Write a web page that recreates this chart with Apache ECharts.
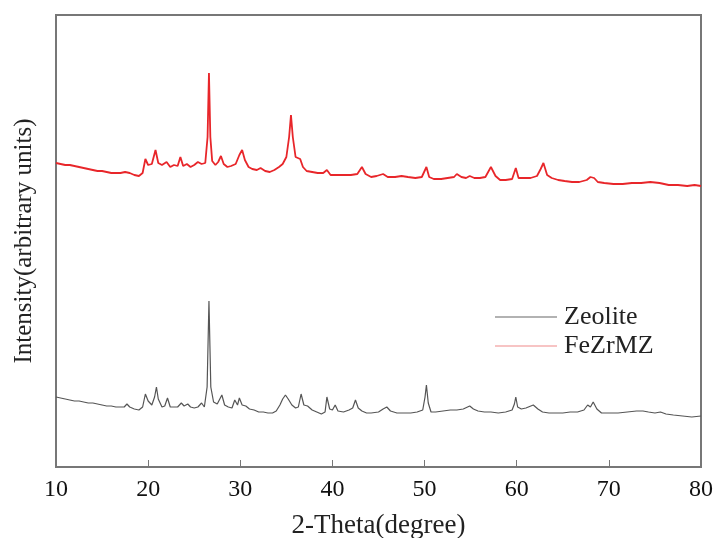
<!DOCTYPE html>
<html>
<head>
<meta charset="utf-8">
<script src="https://cdn.jsdelivr.net/npm/echarts@6/dist/echarts.min.js"></script>
<style>
  html, body { margin: 0; padding: 0; background: #fff; }
  #chart { width: 719px; height: 538px; }
</style>
</head>
<body>
<div id="chart"></div>
<script>
// x tick labels (2-theta, degree)
var xTicks = [10, 20, 30, 40, 50, 60, 70, 80]

// FeZrMZ pattern, [2theta, intensity] (arbitrary units, offset above zeolite)
var fezrmz = [
  [10,304],[10.5,303],[11,302],[11.5,302],[12,301],[12.5,300],[13,299],[13.5,298],[13.7,300],[14,297],
  [14.5,296],[15,296],[15.5,295],[16,294],[16.5,294],[17,294],[17.5,295],[17.7,297],[18,294],[18.5,292],
  [19,291],[19.4,294],[19.7,308],[20,302],[20.4,303],[20.8,317],[21.1,304],[21.5,302],[22,305],[22.4,300],
  [22.8,302],[23.2,301],[23.5,310],[23.8,301],[24.2,303],[24.6,300],[25,302],[25.4,305],[25.8,303],[26.2,304],
  [26.45,330],[26.6,394],[26.75,330],[26.95,306],[27.3,302],[27.6,305],[27.9,311],[28.2,303],[28.6,300],[29,301],
  [29.5,303],[29.9,312],[30.2,317],[30.5,307],[30.9,300],[31.3,298],[31.8,297],[32.2,299],[32.7,296],[33.2,295],
  [33.7,297],[34.2,300],[34.6,303],[35,310],[35.3,330],[35.5,352],[35.7,330],[36,310],[36.5,308],[36.8,300],
  [37.2,296],[37.8,295],[38.4,294],[39,294],[39.4,297],[39.8,292],[40.5,292],[41.2,292],[42,292],[42.7,293],
  [43.2,300],[43.6,293],[44.2,290],[44.8,291],[45.5,293],[46,290],[46.8,290],[47.5,291],[48.2,290],[49,289],
  [49.7,290],[50.2,300],[50.5,290],[51,288],[51.8,288],[52.5,289],[53.2,290],[53.5,293],[54,290],[54.5,289],
  [54.9,291],[55.4,289],[56,289],[56.6,290],[57.2,300],[57.7,291],[58.2,287],[58.8,287],[59.5,288],[59.9,299],
  [60.2,289],[60.8,289],[61.5,289],[62.2,291],[62.6,298],[62.9,304],[63.3,292],[63.8,289],[64.5,287],[65.2,286],
  [66,285],[66.8,285],[67.6,287],[68,290],[68.4,289],[68.8,285],[69.5,284],[70.5,283],[71.5,283],[72.5,284],
  [73.5,284],[74.5,285],[75.5,284],[76.5,282],[77.5,282],[78.5,281],[79.3,282],[80,281]
]

// Zeolite pattern, [2theta, intensity]
var zeolite = [
  [10,70],[10.5,69],[11,68],[11.5,67],[12,66],[12.5,66],[13,65],[13.5,64],[13.7,66],[14,64],
  [14.5,63],[15,62],[15.5,61],[16,61],[16.5,60],[17,60],[17.4,60],[17.7,63],[18,60],[18.5,58],
  [19,57],[19.4,60],[19.7,73],[20,66],[20.4,62],[20.7,70],[20.9,80],[21.1,68],[21.5,60],[21.8,61],
  [22.1,69],[22.4,60],[22.8,60],[23.2,60],[23.6,64],[23.9,61],[24.3,63],[24.6,60],[25,59],[25.4,60],
  [25.8,64],[26.1,60],[26.4,80],[26.6,166],[26.8,80],[27.1,65],[27.5,63],[28,72],[28.3,62],[28.7,60],
  [29.1,59],[29.4,67],[29.7,62],[29.9,69],[30.2,62],[30.6,61],[31,58],[31.5,57],[32,55],[32.5,55],
  [33,54],[33.5,54],[33.9,56],[34.3,62],[34.6,68],[34.9,72],[35.2,68],[35.6,62],[36,59],[36.3,60],
  [36.6,73],[36.9,62],[37.3,61],[37.8,57],[38.3,55],[38.8,53],[39.2,55],[39.4,70],[39.7,58],[40,57],
  [40.3,62],[40.6,56],[41.2,55],[41.8,57],[42.2,59],[42.5,67],[42.8,59],[43.2,56],[43.7,54],[44.2,54],
  [45,55],[45.5,58],[45.9,60],[46.3,56],[47,54],[47.8,54],[48.5,54],[49.2,55],[49.8,57],[50.05,70],
  [50.2,82],[50.4,64],[50.7,55],[51.2,55],[52,56],[52.8,57],[53.5,57],[54.2,58],[54.9,61],[55.3,58],
  [55.8,56],[56.5,55],[57.2,55],[58,54],[58.8,55],[59.5,57],[59.75,63],[59.9,70],[60.1,60],[60.5,58],
  [61,59],[61.8,62],[62.3,58],[62.8,55],[63.5,54],[64.2,54],[65,54],[65.8,55],[66.6,55],[67.3,57],
  [67.7,62],[68,60],[68.3,65],[68.7,58],[69.2,54],[70,54],[71,54],[72,55],[73,56],[73.7,56],
  [74.3,55],[75,54],[75.6,55],[76.2,53],[77,52],[78,51],[79,50],[80,51]
]

var serif = 'Liberation Serif'
var myChart = echarts.init(document.getElementById('chart'))

var option = {
  backgroundColor: '#fff',
  animation: false,
  grid: {
    left: 56,
    right: 18,
    top: 15,
    bottom: 71,
    outerBoundsMode: 'none',
    show: true,
    borderColor: '#777',
    borderWidth: 2
  },
  legend: {
    data: ['Zeolite', 'FeZrMZ'],
    orient: 'vertical',
    left: 490,
    top: 299,
    icon: 'rect',
    itemWidth: 62,
    itemHeight: 1,
    itemGap: 3,
    textStyle: {
      fontFamily: serif,
      fontSize: 26,
      lineHeight: 26,
      color: '#222',
      padding: [0, 0, 0, 2]
    }
  },
  xAxis: {
    type: 'value',
    min: 10,
    max: 80,
    interval: 10,
    name: '2-Theta(degree)',
    nameLocation: 'middle',
    nameGap: 45,
    nameTextStyle: { fontFamily: serif, fontSize: 27, color: '#222' },
    axisLine: { lineStyle: { color: '#777', width: 2 } },
    axisTick: { inside: true, length: 7, lineStyle: { color: '#777', width: 1 } },
    axisLabel: {
      fontFamily: serif,
      fontSize: 24,
      color: '#111',
      margin: 11,
      formatter: function (v) {
        return xTicks.indexOf(v) >= 0 ? v : ''
      }
    },
    splitLine: { show: false }
  },
  yAxis: {
    type: 'value',
    min: 0,
    max: 452,
    name: 'Intensity(arbitrary units)',
    nameLocation: 'middle',
    nameGap: 19,
    nameTextStyle: { fontFamily: serif, fontSize: 25, color: '#222' },
    axisLine: { show: true, lineStyle: { color: '#777', width: 2 } },
    axisTick: { show: false },
    axisLabel: { show: false },
    splitLine: { show: false }
  },
  series: [
    {
      name: 'Zeolite',
      type: 'line',
      data: zeolite,
      symbol: 'none',
      color: '#666',
      lineStyle: { width: 1.2, color: '#555' }
    },
    {
      name: 'FeZrMZ',
      type: 'line',
      data: fezrmz,
      symbol: 'none',
      color: '#f08a8a',
      lineStyle: { width: 1.8, color: '#e8262a' }
    }
  ]
}

myChart.setOption(option)
</script>
</body>
</html>
